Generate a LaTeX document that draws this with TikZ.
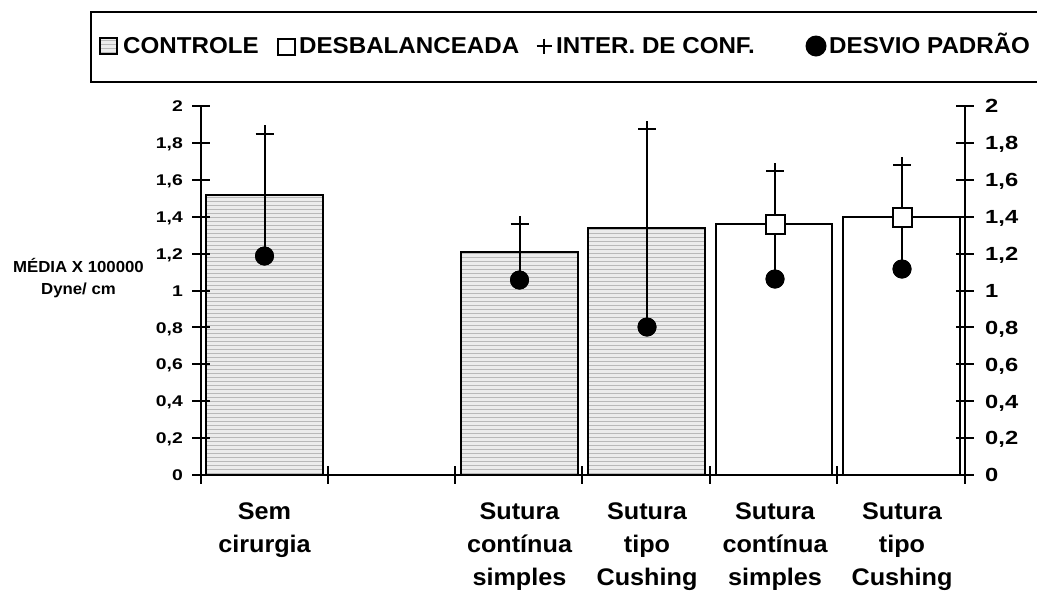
\documentclass[tikz,border=0pt]{standalone}
\usepackage{fontspec}
\setmainfont{Liberation Sans}
\newfontfamily\tickfont{Liberation Sans}[FakeStretch=1.25]
\newfontfamily\widefont{Liberation Sans}[FakeStretch=1.05]
\newcommand{\ctrlfill}[4]{%
  \begin{scope}
    \clip (#1,#2) rectangle (#3,#4);
    \fill[gray!15] (#1,#2) rectangle (#3,#4);
    \foreach \yy in {0,4,...,400}
      \draw[gray!55, line width=1.2pt] (#1,{#4-\yy-1.5}) -- (#3,{#4-\yy-1.5});
  \end{scope}}
\begin{document}
\begin{tikzpicture}[x=1pt,y=-1pt,
  ax/.style={line width=2pt, line cap=rect},
  barbox/.style={draw=black, line width=2pt},
  errline/.style={line width=2pt},
  dotmark/.style={circle, fill=black, minimum size=19pt, inner sep=0pt},
  sqmark/.style={rectangle, draw=black, fill=white, line width=2pt, minimum size=19pt, inner sep=0pt},
  xlbl/.style={font=\widefont\bfseries\fontsize{24}{33}\selectfont, align=center, inner sep=0pt, anchor=north},
  ltick/.style={font=\tickfont\bfseries\fontsize{15.5}{18}\selectfont, inner sep=0pt, anchor=base east},
  rtick/.style={font=\tickfont\bfseries\fontsize{19}{22}\selectfont, inner sep=0pt, anchor=base west},
  legtxt/.style={font=\widefont\bfseries\fontsize{23}{26}\selectfont, inner sep=0pt, anchor=base west},
  ylbl/.style={font=\widefont\bfseries\fontsize{16}{18}\selectfont, inner sep=0pt, anchor=base}
]
\useasboundingbox (0,0) rectangle (1037,590);

% legend
\draw[line width=2pt] (91,12) rectangle (1050,82);
\ctrlfill{100}{38}{117}{54}
\draw[line width=1.5pt] (100,38) rectangle (117,54);
\node[legtxt] (lc) at (123,53) {CONTROLE};
\draw[line width=1.3pt] (278,39) rectangle (295,55);
\node[legtxt] (ld) at (299,53) {DESBALANCEADA};
\draw[line width=1.5pt] (536.5,46) -- (551.5,46) (544,38.5) -- (544,53.5);
\node[legtxt] (li) at (556,53) {INTER. DE CONF.};
\node[circle, fill=black, minimum size=21pt, inner sep=0pt] (ldot) at (816,46) {};
\node[legtxt] (lp) at (829,53) {DESVIO PADRÃO};

% y axis title
\node[ylbl] (yt1) at (78.5,272) {MÉDIA X 100000};
\node[ylbl] (yt2) at (78.5,294.5) {Dyne/ cm};

% bars
\ctrlfill{206}{195}{323}{475}
\draw[barbox] (206,195) rectangle (323,475);
\ctrlfill{461}{252}{578}{475}
\draw[barbox] (461,252) rectangle (578,475);
\ctrlfill{588}{228}{705}{475}
\draw[barbox] (588,228) rectangle (705,475);
\draw[barbox, fill=white] (716,224) rectangle (832,475);
\draw[barbox, fill=white] (843,217) rectangle (960,475);

% axes
\draw[ax] (201,106) -- (201,483);
\draw[ax] (965,106) -- (965,483);
\draw[ax] (201,475) -- (965,475);
\foreach \xx in {328,455,582,710,837}
  \draw[ax] (\xx,467) -- (\xx,483);
\foreach \v/\t in {0/0,0.2/{0,2},0.4/{0,4},0.6/{0,6},0.8/{0,8},1/1,1.2/{1,2},1.4/{1,4},1.6/{1,6},1.8/{1,8},2/2}{
  \draw[ax] (193,{475-184.5*\v}) -- (209,{475-184.5*\v});
  \draw[ax] (957,{475-184.5*\v}) -- (973,{475-184.5*\v});
  \node[ltick] at (183,{475-184.5*\v+5.6}) {\t};
  \node[rtick] at (985,{475-184.5*\v+6.8}) {\t};
}

% error bars
% bar 1
\coordinate (t1) at (264.5,125);
\node[dotmark] (d1) at (264.5,256) {};
\draw[errline] (t1) -- (d1.center);
\draw[errline] (255.5,134) -- (273.5,134);
\node[dotmark] at (d1) {};
% bar 3
\coordinate (t3) at (519.5,216);
\node[dotmark] (d3) at (519.5,280) {};
\draw[errline] (t3) -- (d3.center);
\draw[errline] (510.5,224) -- (528.5,224);
\node[dotmark] at (d3) {};
% bar 4
\coordinate (t4) at (647,121);
\node[dotmark] (d4) at (647,327) {};
\draw[errline] (t4) -- (d4.center);
\draw[errline] (638,128.5) -- (656,128.5);
\node[dotmark] at (d4) {};
% bar 5
\coordinate (t5) at (775,163);
\node[dotmark] (d5) at (775,279) {};
\draw[errline] (t5) -- (d5.center);
\draw[errline] (766,171) -- (784,171);
\node[sqmark] (s5) at (775,224) {};
\node[dotmark] at (d5) {};
% bar 6
\coordinate (t6) at (902,157);
\node[dotmark] (d6) at (902,269) {};
\draw[errline] (t6) -- (d6.center);
\draw[errline] (893,165) -- (911,165);
\node[sqmark] (s6) at (902,217) {};
\node[dotmark] at (d6) {};

% x labels
\node[xlbl] (x1) at (264.5,503) {Sem\\cirurgia};
\node[xlbl] (x3) at (519.5,503) {Sutura\\contínua\\simples};
\node[xlbl] (x4) at (647,503) {Sutura\\tipo\\Cushing};
\node[xlbl] (x5) at (775,503) {Sutura\\contínua\\simples};
\node[xlbl] (x6) at (902,503) {Sutura\\tipo\\Cushing};
\end{tikzpicture}
\end{document}
